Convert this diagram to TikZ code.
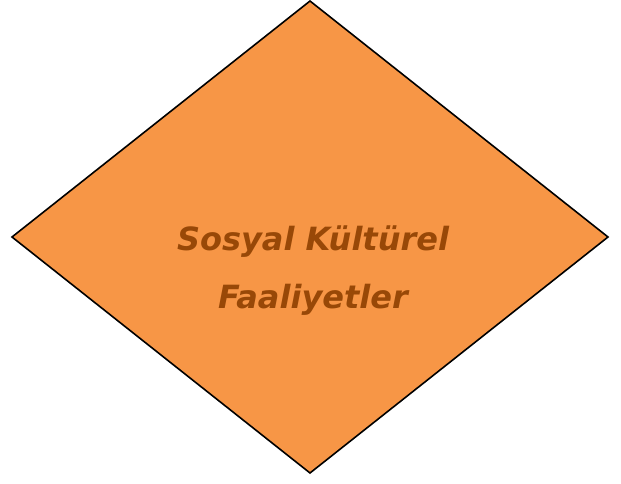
\documentclass[tikz,border=0pt]{standalone}
\usepackage{fontspec}
\setmainfont{DejaVu Sans}
\definecolor{fillor}{HTML}{F79646}
\definecolor{txtbr}{HTML}{984807}
\begin{document}
\begin{tikzpicture}[x=1pt,y=-1pt,
  dia/.style={fill=fillor,draw=black,line width=1.6pt,line join=miter},
  lbl/.style={text=txtbr,font=\fontsize{32}{58}\selectfont\bfseries\itshape,align=center}]
\useasboundingbox (0,0) rectangle (621,484);
\coordinate (T) at (310,1);
\coordinate (R) at (608,237);
\coordinate (B) at (310,473);
\coordinate (L) at (12,237);
\draw[dia] (T) -- (R) -- (B) -- (L) -- cycle;
\node[lbl] (txt) at (313,271) {Sosyal Kültürel\\Faaliyetler};
\end{tikzpicture}
\end{document}
